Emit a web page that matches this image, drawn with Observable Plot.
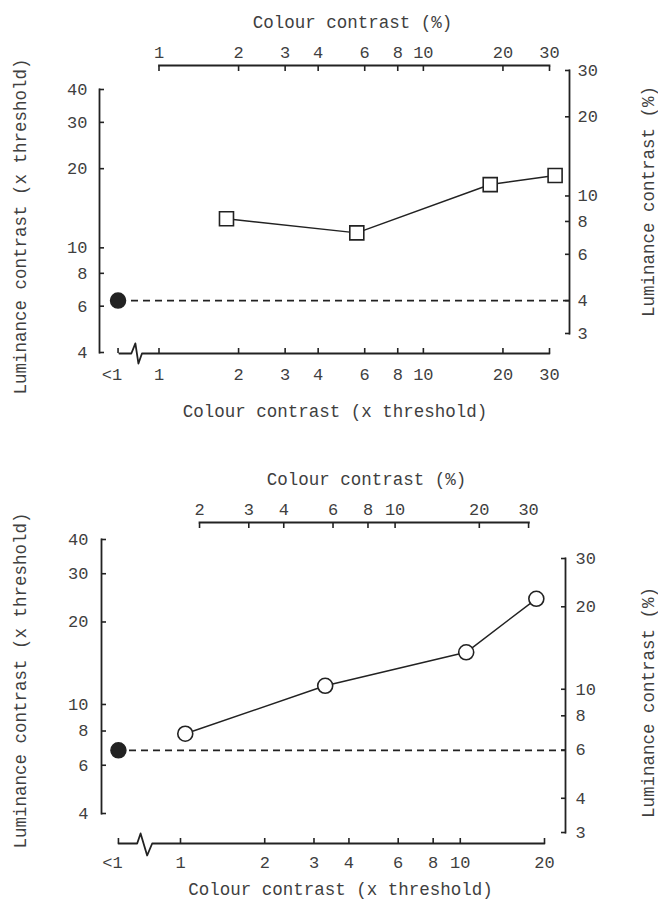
<!DOCTYPE html>
<html><head><meta charset="utf-8">
<script src="https://cdn.jsdelivr.net/npm/d3@7"></script>
<script src="https://cdn.jsdelivr.net/npm/@observablehq/plot@0.6"></script>
<style>
body{margin:0;background:#fff;}
#chart svg{display:block;}
</style></head><body><div id="chart"></div>
<script>
// ---------- Data ----------
// Panel A (open squares)
const aColourX = [1.8, 5.6, 17.9, 31.5];   // colour contrast (x threshold)
const aLumY    = [12.9, 11.4, 17.4, 18.85]; // luminance contrast (x threshold)
const aBaseX = 0.7;                         // "<1" position
const aBaseY = 6.3;                         // filled dot (luminance only)
// Panel B (open circles)
const bColourX = [1.04, 3.29, 10.5, 18.7];
const bLumY    = [7.82, 11.7, 15.5, 24.3];
const bBaseX = 0.6;
const bBaseY = 6.8;

// ---------- Tick labels ----------
const lumTicks      = [4, 6, 8, 10, 20, 30, 40];
const aColThrTicks  = [1, 2, 3, 4, 6, 8, 10, 20, 30];
const bColThrTicks  = [1, 2, 3, 4, 6, 8, 10, 20];
const aColPctTicks  = [1, 2, 3, 4, 6, 8, 10, 20, 30];
const bColPctTicks  = [2, 3, 4, 6, 8, 10, 20, 30];
const aLumPctTicks  = [3, 4, 6, 8, 10, 20, 30];
const bLumPctTicks  = [3, 4, 6, 8, 10, 20, 30];
const lessThanLabel = "<1";
// percent per threshold unit
const aColPerThr = 1.0,  aLumPerThr = 0.635;
const bColPerThr = 1.71, bLumPerThr = 0.88;

// break-mark shapes on the colour axis (x threshold units, y relative factor)
const aBreak = [[0.708,1],[0.786,1],[0.814,1.092],[0.836,0.916],[0.862,1],[30,1]];
const bBreak = [[0.6,1],[0.70,1],[0.72,1.088],[0.76,0.904],[0.792,1],[20,1]];

const FONT = "'Liberation Mono', 'DejaVu Sans Mono', monospace";
const INK = "#222", TXT = "#3f3f3f";

function panel(c) {
  const pts = c.x.map((x, i) => ({x, y: c.y[i]}));
  const brk = c.brk.map(([x, f]) => ({x, y: 4 * f}));
  const text1 = (s, o) => Plot.text([s], {text: d => d, fill: TXT, fontSize: 17.5, textAnchor: "middle", lineAnchor: "middle", ...o});
  const ax = {stroke: INK, strokeWidth: 1.6, fill: TXT, fontSize: 17, label: null};
  return Plot.plot({
    width: 658, height: 454,
    marginLeft: c.mL, marginRight: c.mR, marginTop: c.mT, marginBottom: c.mB,
    style: {fontFamily: FONT, fontSize: "17px", color: TXT, background: "white", overflow: "visible"},
    x: {type: "log", domain: c.xDomain, insetLeft: c.xiL, insetRight: c.xiR, label: null},
    y: {type: "log", domain: [4, 40], insetTop: c.yiT, insetBottom: c.yiB, label: null},
    marks: [
      // axis lines
      Plot.frame({anchor: "left", insetTop: c.yiT, insetBottom: c.yiB, stroke: INK, strokeWidth: 1.8}),
      Plot.frame({anchor: "right", insetTop: c.rT, insetBottom: c.rB, stroke: INK, strokeWidth: 1.8}),
      Plot.frame({anchor: "top", insetLeft: c.tL, insetRight: c.tR, stroke: INK, strokeWidth: 1.8}),
      Plot.line(brk, {x: "x", y: "y", dy: c.yiB, stroke: INK, strokeWidth: 1.8}),
      // axes
      Plot.axisY({anchor: "left", ticks: lumTicks, tickFormat: d => String(d), tickSize: -5, tickPadding: c.lP, ...ax}),
      Plot.axisY({anchor: "right", ticks: c.lumPct.map(p => p / c.lumK), tickFormat: d => String(Math.round(d * c.lumK)),
                  tickSize: -5, tickPadding: c.rP, ...ax}),
      Plot.axisX({anchor: "bottom", ticks: [c.baseX, ...c.colThr], tickFormat: d => d === c.baseX ? "" : String(d),
                  tickSize: -5, tickPadding: c.bP, ...ax}),
      Plot.axisX({anchor: "bottom", ticks: [c.baseX], tickFormat: () => lessThanLabel,
                  tickSize: 0, tickPadding: c.bP - 5, dx: -6, ...ax}),
      Plot.axisX({anchor: "top", ticks: c.colPct.map(p => p / c.colK), tickFormat: d => String(Math.round(d * c.colK)),
                  tickSize: -5, tickPadding: c.tP, ...ax}),
      // data
      Plot.ruleY([c.baseY], {insetLeft: c.dashL, stroke: INK, strokeWidth: 1.6, strokeDasharray: "7,5"}),
      Plot.line(pts, {x: "x", y: "y", stroke: INK, strokeWidth: 1.5}),
      Plot.dot(pts, {x: "x", y: "y", symbol: c.symbol, r: c.r, fill: "white", stroke: INK, strokeWidth: 1.6}),
      Plot.dot([{x: c.baseX, y: c.baseY}], {x: "x", y: "y", r: 7.5, fill: INK, stroke: INK}),
      // titles
      text1("Colour contrast (%)", {frameAnchor: "top", dx: c.ttx, dy: c.tty}),
      text1("Colour contrast (x threshold)", {frameAnchor: "bottom", dx: c.btx, dy: c.bty}),
      text1("Luminance contrast (x threshold)", {frameAnchor: "left", rotate: -90, dx: c.ltx, dy: c.lty}),
      text1("Luminance contrast (%)", {frameAnchor: "right", rotate: -90, dx: c.rtx, dy: c.rty})
    ]
  });
}

const chart = document.getElementById("chart");
chart.append(panel({
  x: aColourX, y: aLumY, baseX: aBaseX, baseY: aBaseY, brk: aBreak, symbol: "square", r: 7.9,
  colThr: aColThrTicks, colPct: aColPctTicks, lumPct: aLumPctTicks, colK: aColPerThr, lumK: aLumPerThr,
  xDomain: [1, 30],
  mL: 99, mR: 89, mT: 65, mB: 101,
  xiL: 59.5, xiR: 20, yiT: 24, yiB: 1,
  rT: 5, rB: 20, tL: 59.5, tR: 20,
  lP: 17, rP: 13, bP: 19, tP: 13, dashL: 20,
  ttx: 18, tty: -43.5, btx: 0.5, bty: 58, ltx: -79, lty: 17, rtx: 79, rty: -8
}));
chart.append(panel({
  x: bColourX, y: bLumY, baseX: bBaseX, baseY: bBaseY, brk: bBreak, symbol: "circle", r: 7.5,
  colThr: bColThrTicks, colPct: bColPctTicks, lumPct: bLumPctTicks, colK: bColPerThr, lumK: bLumPerThr,
  xDomain: [1, 20],
  mL: 101, mR: 93, mT: 68, mB: 65,
  xiL: 79, xiR: 21, yiT: 17, yiB: 30,
  rT: 36, rB: 11, tL: 98, tR: 36.6,
  lP: 18, rP: 15, bP: 17, tP: 13, dashL: 16,
  ttx: 33, tty: -43, btx: 7, bty: 46, ltx: -81, lty: -2.5, rtx: 83, rty: 19.5
}));
</script></body></html>
